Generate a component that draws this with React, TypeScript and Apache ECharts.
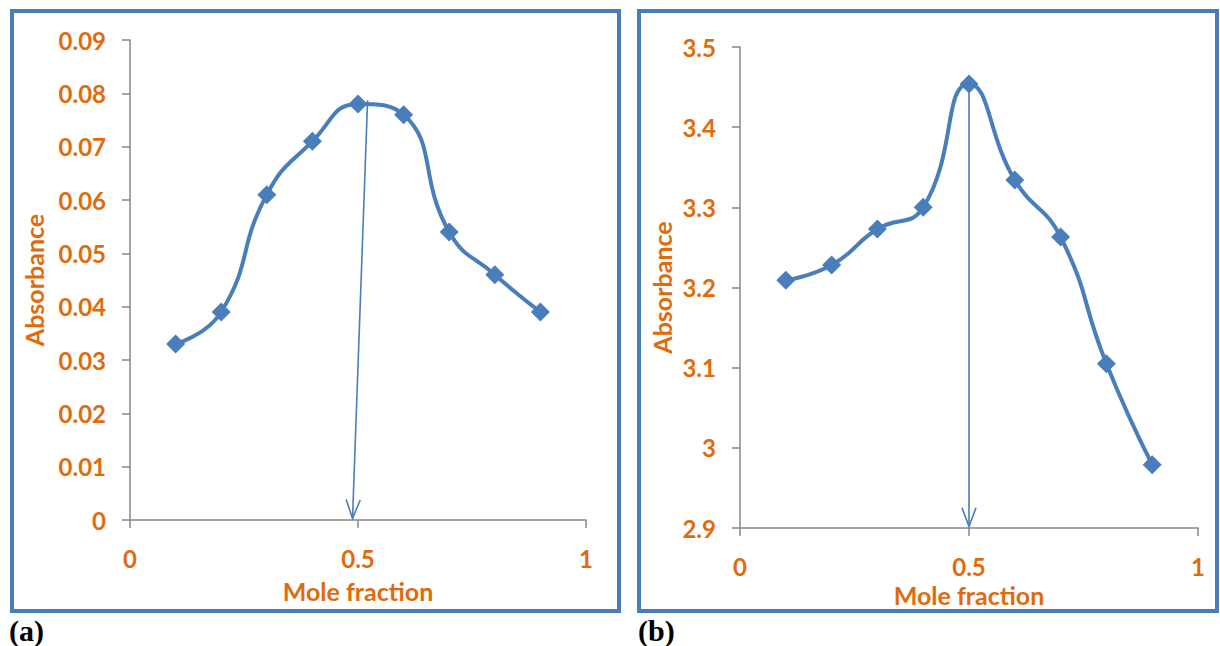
import React, { useEffect, useRef } from "react";
import * as echarts from "echarts";

const xTicksMin = 0;
const xTicksMax = 1;
const moleFraction = [0.1, 0.2, 0.3, 0.4, 0.5, 0.6, 0.7, 0.8, 0.9];
const absorbanceA = [0.033, 0.039, 0.061, 0.071, 0.078, 0.076, 0.054, 0.046, 0.039];
const absorbanceB = [3.209, 3.228, 3.273, 3.3, 3.454, 3.334, 3.263, 3.105, 2.979];
const arrowA = [0.521, 0.0787, 0.488, 0.0003];
const arrowB = [0.5, 3.448, 0.5, 2.902];
const panelLabels = ["(a)", "(b)"];
const xTitle = "Mole fraction";
const yTitle = "Absorbance";

const BLUE = "#4A7EBB";
const ORANGE = "#E06B0C";
const AXIS = "#878787";
const FONT = "Lato";

function arrowRender(params: any, api: any) {
  const p1 = api.coord([api.value(0), api.value(1)]);
  const p2 = api.coord([api.value(2), api.value(3)]);
  const ang = Math.atan2(p2[1] - p1[1], p2[0] - p1[0]);
  const L = 20;
  const s = 0.36;
  const a = [p2[0] - L * Math.cos(ang - s), p2[1] - L * Math.sin(ang - s)];
  const b = [p2[0] - L * Math.cos(ang + s), p2[1] - L * Math.sin(ang + s)];
  return {
    type: "group",
    children: [
      { type: "line", shape: { x1: p1[0], y1: p1[1], x2: p2[0], y2: p2[1] }, style: { stroke: BLUE, lineWidth: 1.6 } },
      { type: "polyline", shape: { points: [a, p2, b] }, style: { stroke: BLUE, fill: null, lineWidth: 1.6 } },
    ],
  };
}

function xAxisCfg(gridIndex: number, nameGap: number) {
  return {
    type: "value",
    gridIndex,
    min: xTicksMin,
    max: xTicksMax,
    interval: 0.5,
    name: xTitle,
    nameLocation: "middle",
    nameGap,
    nameTextStyle: { color: ORANGE, fontFamily: FONT, fontWeight: "bold", fontSize: 25 },
    axisLine: { show: true, lineStyle: { color: AXIS, width: 1.5 } },
    axisTick: { show: true, length: 8, lineStyle: { color: AXIS, width: 1.5 } },
    axisLabel: { color: ORANGE, fontFamily: FONT, fontWeight: "bold", fontSize: 24, margin: 26 },
    splitLine: { show: false },
  };
}

function yAxisCfg(gridIndex: number, min: number, max: number, interval: number, nameGap: number, fmt: (v: number) => string) {
  return {
    type: "value",
    gridIndex,
    min,
    max,
    interval,
    name: yTitle,
    nameLocation: "middle",
    nameGap,
    nameRotate: 90,
    nameTextStyle: { color: ORANGE, fontFamily: FONT, fontWeight: "bold", fontSize: 25 },
    axisLine: { show: true, lineStyle: { color: AXIS, width: 1.5 } },
    axisTick: { show: true, length: 8, lineStyle: { color: AXIS, width: 1.5 } },
    axisLabel: { color: ORANGE, fontFamily: FONT, fontWeight: "bold", fontSize: 24, margin: 24, formatter: fmt },
    splitLine: { show: false },
  };
}

export default function App() {
  const ref = useRef<HTMLDivElement>(null);
  useEffect(() => {
    document.body.style.margin = "0";
    const chart = echarts.init(ref.current!, undefined, { renderer: "svg" });
    const lineSeries = (xi: number, data: number[]) => ({
      type: "line",
      xAxisIndex: xi,
      yAxisIndex: xi,
      data: moleFraction.map((x, i) => [x, data[i]]),
      smooth: 0.5,
      symbol: "diamond",
      symbolSize: 19,
      itemStyle: { color: BLUE },
      lineStyle: { color: BLUE, width: 4 },
      z: 3,
    });
    chart.setOption({
      animation: false,
      backgroundColor: "#ffffff",
      grid: [
        { left: 130, top: 40, width: 456, height: 480 },
        { left: 740, top: 47, width: 458, height: 481 },
      ],
      xAxis: [xAxisCfg(0, 58), xAxisCfg(1, 49)],
      yAxis: [
        yAxisCfg(0, 0, 0.09, 0.01, 84, (v: number) => (v === 0 ? "0" : v.toFixed(2))),
        yAxisCfg(1, 2.9, 3.5, 0.1, 66, (v: number) => (Math.abs(v - 3) < 1e-9 ? "3" : v.toFixed(1))),
      ],
      series: [
        lineSeries(0, absorbanceA),
        lineSeries(1, absorbanceB),
        { type: "custom", xAxisIndex: 0, yAxisIndex: 0, renderItem: arrowRender, data: [arrowA], encode: { x: [0, 2], y: [1, 3] }, z: 2 },
        { type: "custom", xAxisIndex: 1, yAxisIndex: 1, renderItem: arrowRender, data: [arrowB], encode: { x: [0, 2], y: [1, 3] }, z: 2 },
      ],
      graphic: [
        { type: "rect", shape: { x: 12, y: 11, width: 607, height: 600 }, style: { fill: null, stroke: BLUE, lineWidth: 4 } },
        { type: "rect", shape: { x: 639, y: 11, width: 578, height: 600 }, style: { fill: null, stroke: BLUE, lineWidth: 4 } },
        { type: "text", left: 9, top: 615, style: { text: panelLabels[0], font: "bold 30px 'Liberation Serif', serif", fill: "#000" } },
        { type: "text", left: 638, top: 615, style: { text: panelLabels[1], font: "bold 30px 'Liberation Serif', serif", fill: "#000" } },
      ],
    });
    return () => chart.dispose();
  }, []);
  return <div ref={ref} style={{ position: "absolute", left: 0, top: 0, width: 1220, height: 646 }} />;
}
